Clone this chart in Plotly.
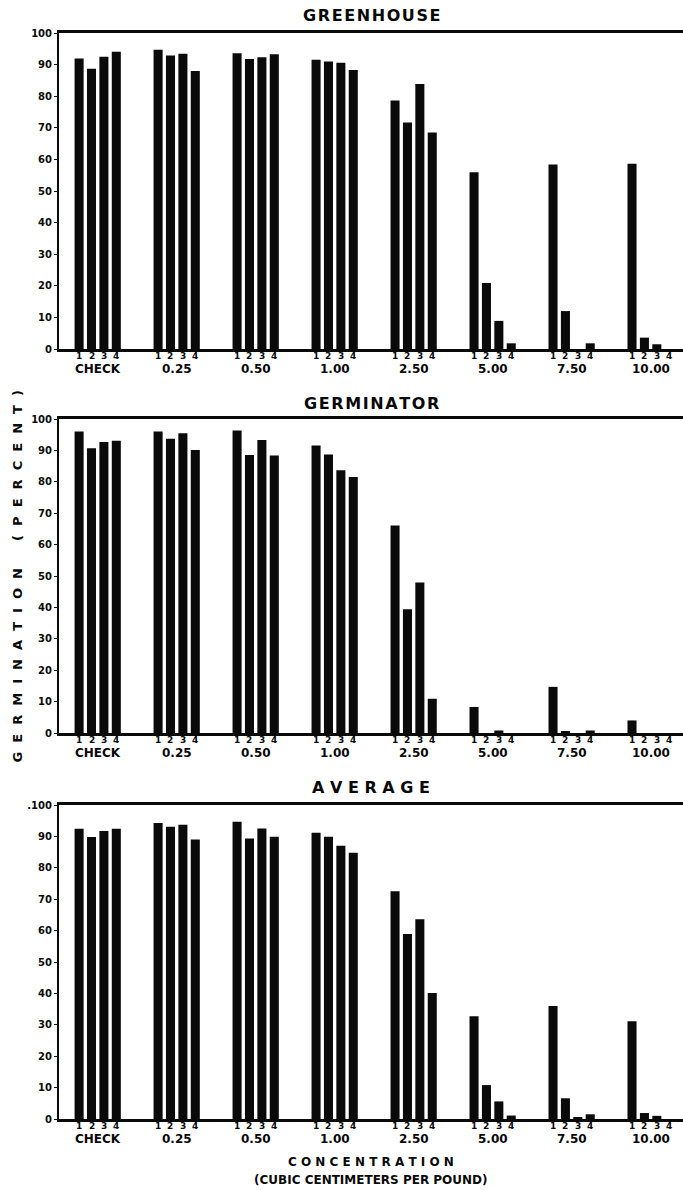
import plotly.graph_objects as go

categories = ["CHECK", "0.25", "0.50", "1.00", "2.50", "5.00", "7.50", "10.00"]
reps = ["1", "2", "3", "4"]

greenhouse_r1 = [91.9, 94.7, 93.6, 91.5, 78.6, 55.9, 58.4, 58.6]
greenhouse_r2 = [88.7, 92.9, 91.8, 91.0, 71.7, 20.9, 12.0, 3.6]
greenhouse_r3 = [92.5, 93.4, 92.3, 90.6, 83.9, 8.9, 0.0, 1.5]
greenhouse_r4 = [94.1, 88.0, 93.3, 88.3, 68.5, 1.8, 1.8, 0.0]

germinator_r1 = [96.0, 96.0, 96.3, 91.6, 66.1, 8.3, 14.7, 4.0]
germinator_r2 = [90.7, 93.7, 88.5, 88.7, 39.4, 0.0, 0.4, 0.0]
germinator_r3 = [92.7, 95.5, 93.3, 83.7, 47.9, 0.8, 0.0, 0.0]
germinator_r4 = [93.1, 90.1, 88.4, 81.5, 10.9, 0.0, 0.8, 0.0]

average_r1 = [92.4, 94.3, 94.7, 91.2, 72.5, 32.7, 36.0, 31.1]
average_r2 = [89.8, 93.1, 89.3, 89.9, 58.9, 10.8, 6.6, 1.9]
average_r3 = [91.7, 93.7, 92.5, 87.0, 63.6, 5.6, 0.4, 1.0]
average_r4 = [92.4, 89.0, 89.9, 84.8, 40.1, 1.1, 1.5, 0.0]

y_ticks = [0, 10, 20, 30, 40, 50, 60, 70, 80, 90, 100]
y_ticktext_top = ["0", "10", "20", "30", "40", "50", "60", "70", "80", "90", "100"]
y_ticktext_avg = ["0", "10", "20", "30", "40", "50", "60", "70", "80", "90", ".100"]

panel_titles = ["\u200a".join("GREENHOUSE"), "\u200a".join("GERMINATOR"), "A V E R A G E"]
panels = [
    [greenhouse_r1, greenhouse_r2, greenhouse_r3, greenhouse_r4],
    [germinator_r1, germinator_r2, germinator_r3, germinator_r4],
    [average_r1, average_r2, average_r3, average_r4],
]

W, H = 683, 1190
ML, MR, MT, MB = 59, 0, 33, 71
PH = H - MT - MB  # plot-area height in px
PW = W - ML - MR


def py(p):
    return (H - MB - p) / PH


def px(p):
    return (p - ML) / PW


domains = [[py(349), 1.0], [py(733), py(419)], [0.0, py(805)]]
title_y = [15.5, 403, 787]

BARGAP = 0.372
BARGROUPGAP = 0.27
slot = (1 - BARGAP) / 4
FONT = "DejaVu Sans"

fig = go.Figure()
annotations = []
for k, series in enumerate(panels):
    xa = "x" if k == 0 else f"x{k+1}"
    ya = "y" if k == 0 else f"y{k+1}"
    for r, vals in enumerate(series):
        fig.add_trace(go.Bar(x=categories, y=vals, name=reps[r], xaxis=xa, yaxis=ya,
                             marker=dict(color="#0a0a0a", line=dict(width=0)),
                             showlegend=False))
    axkey = "" if k == 0 else str(k + 1)
    fig.layout["xaxis" + axkey] = dict(
        type="category", range=[-0.49, 7.41], domain=[0, 1], anchor=ya,
        showline=True, linewidth=2.5, linecolor="#0a0a0a", mirror=True,
        showticklabels=False, showgrid=False, zeroline=False, ticks="")
    fig.layout["yaxis" + axkey] = dict(
        range=[0, 100], domain=domains[k], anchor=xa,
        tickvals=y_ticks, ticktext=(y_ticktext_avg if k == 2 else y_ticktext_top),
        showline=True, linewidth=2, linecolor="#0a0a0a", ticks="outside",
        ticklen=3, tickwidth=1, tickcolor="#0a0a0a",
        tickfont=dict(family=FONT, size=10, color="#0a0a0a", weight="bold"),
        showgrid=False, zeroline=False)
    # replicate numbers under each bar, group labels under each group
    for i, c in enumerate(categories):
        for r in range(4):
            annotations.append(dict(
                x=i + (r - 1.5) * slot, y=0, xref=xa, yref=ya, text=reps[r],
                showarrow=False, yanchor="middle", yshift=-7,
                font=dict(family=FONT, size=9, color="#0a0a0a", weight="bold")))
        annotations.append(dict(
            x=i, y=0, xref=xa, yref=ya, text=c, showarrow=False,
            yanchor="middle", yshift=-20,
            font=dict(family=FONT, size=12, color="#0a0a0a", weight="bold")))
    annotations.append(dict(
        x=0.5, y=py(title_y[k]), xref="paper", yref="paper", text=panel_titles[k],
        showarrow=False, xanchor="center", yanchor="middle",
        font=dict(family=FONT, size=16, color="#0a0a0a", weight="bold")))

sp = "\u00a0\u00a0"
ytitle = sp.join("GERMINATION") + "\u00a0" * 6 + sp.join("(PERCENT)")
annotations.append(dict(
    x=px(17), y=py(576.5), xref="paper", yref="paper", text=ytitle, textangle=-90,
    showarrow=False, xanchor="center", yanchor="middle",
    font=dict(family=FONT, size=13, color="#0a0a0a", weight="bold")))
annotations.append(dict(
    x=0.5, y=py(1162), xref="paper", yref="paper", text=" ".join("CONCENTRATION"),
    showarrow=False, xanchor="center", yanchor="middle",
    font=dict(family=FONT, size=12, color="#0a0a0a", weight="bold")))
annotations.append(dict(
    x=0.5, y=py(1180), xref="paper", yref="paper",
    text="(CUBIC CENTIMETERS PER POUND)",
    showarrow=False, xanchor="center", yanchor="middle",
    font=dict(family=FONT, size=12, color="#0a0a0a", weight="bold")))

fig.update_layout(
    width=W, height=H, margin=dict(l=ML, r=MR, t=MT, b=MB, pad=0),
    barmode="group", bargap=BARGAP, bargroupgap=BARGROUPGAP,
    paper_bgcolor="white", plot_bgcolor="white",
    annotations=annotations, showlegend=False, hovermode=False,
    font=dict(family=FONT, color="#0a0a0a"))

fig.write_html("out.html",
               config={"displayModeBar": False},
               post_script="document.body.style.margin='0';"
                           "document.body.style.overflow='hidden';")
